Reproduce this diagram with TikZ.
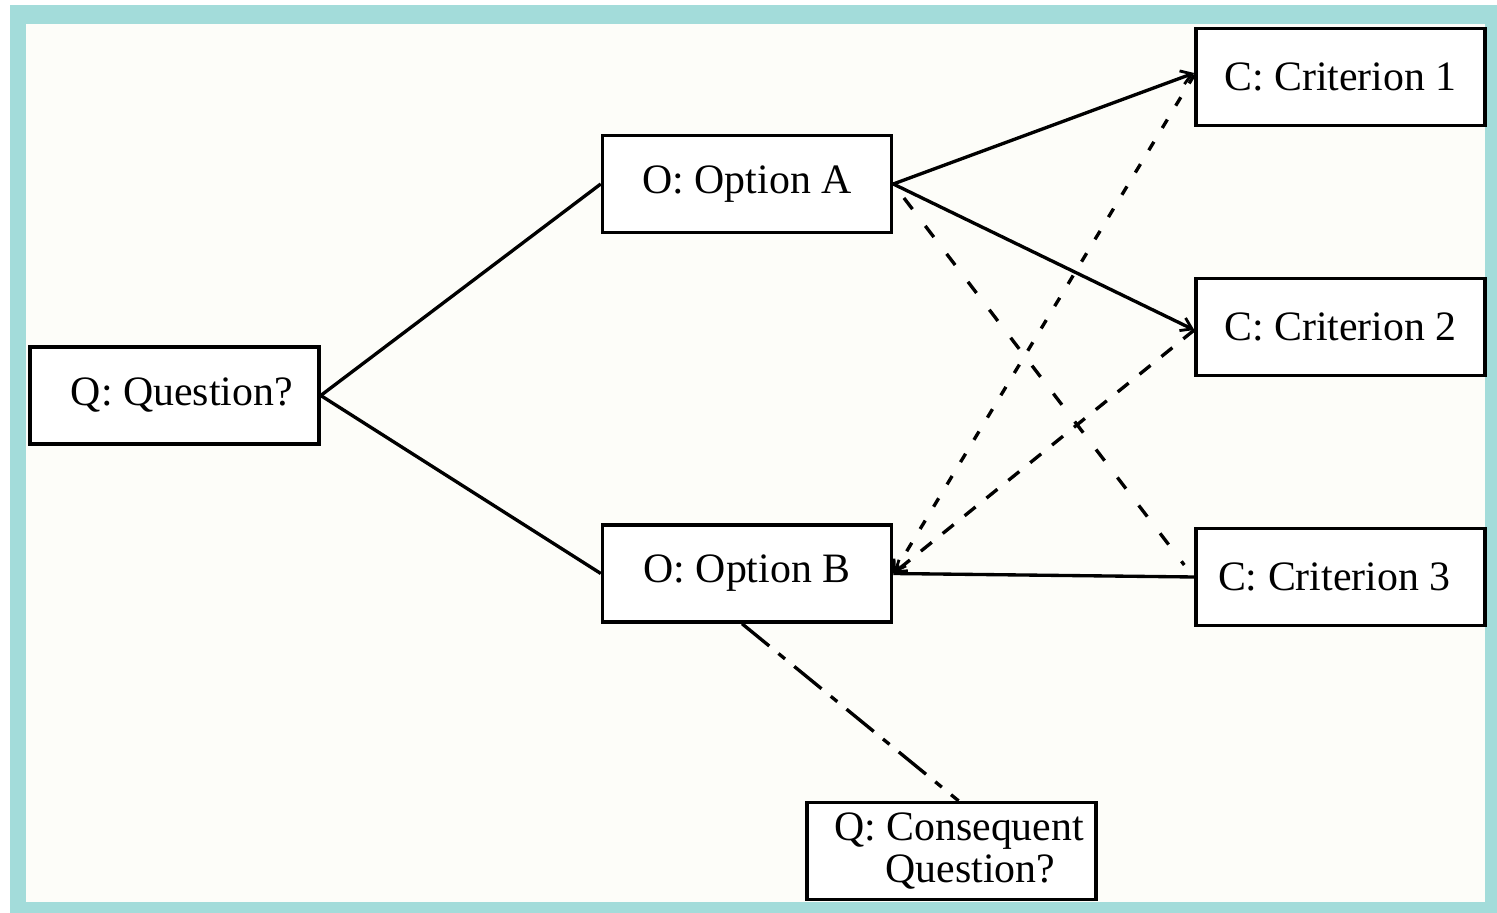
\documentclass[tikz,border=0pt]{standalone}
\usepackage{fontspec}
\setmainfont{Liberation Serif}
\usetikzlibrary{arrows.meta,calc}
\definecolor{frameteal}{RGB}{163,220,218}
\definecolor{paper}{RGB}{253,253,249}
\begin{document}
\begin{tikzpicture}[x=0.01cm,y=-0.01cm,
  box/.style={draw=black,line width=0.95pt,fill=white,rectangle,
    minimum width=2.89cm,minimum height=0.97cm,inner sep=0pt,
    font=\fontsize{11.9}{12}\selectfont},
  link/.style={line width=0.95pt},
  tip/.style={-{Straight Barb[length=3pt,width=4pt,line width=0.8pt]}},
  longdash/.style={dash pattern=on 4pt off 6pt},
  shortdash/.style={dash pattern=on 2.8pt off 4.6pt},
  middash/.style={dash pattern=on 4pt off 4pt},
  dashdot/.style={dash pattern=on 10pt off 3.4pt on 2.4pt off 3.4pt}]
  \useasboundingbox (0,0) rectangle (1497,913);
  % frame and paper
  \fill[white] (0,0) rectangle (1497,913);
  \fill[frameteal] (10,5) rectangle (1497,913);
  \fill[paper] (26,24) rectangle (1485,902);

  % nodes
  \node[box] (q)  at (174.5,395.5) {\hspace*{0.35em}Q: Question?};
  \node[box] (oa) at (747,184)     {O: Option A};
  \node[box] (ob) at (747,573.5)   {O: Option B};
  \node[box] (c1) at (1340.5,77)   {C: Criterion 1};
  \node[box] (c2) at (1340.5,327)  {C: Criterion 2};
  \node[box] (c3) at (1340.5,577)  {C: Criterion 3\hspace*{0.3em}};
  \node[box,align=center] (cq) at (951.5,851) {\hspace*{0.36em}Q: Consequent\\\hspace*{0.9em}Question?};

  % question to options
  \draw[link] (q.east) -- (oa.west);
  \draw[link] (q.east) -- (ob.west);

  % option A to criteria
  \draw[link,tip] (oa.east) -- ($(c1.west)+(0,-4)$);
  \draw[link,tip] (oa.east) -- ($(c2.west)+(0,3)$);
  \draw[link,longdash,dash phase=-5pt] (oa.east) -- ($(c3.west)+(-10,-12)$);

  % criteria to option B
  \draw[link,shortdash,tip] ($(c1.west)+(0,-2)$) -- (ob.east);
  \draw[link,middash,tip] ($(c2.west)+(0,3)$) -- (ob.east);
  \draw[link] (ob.east) -- (c3.west);

  % option B to consequent question
  \draw[link,dashdot] ($(ob.south)+(-5,0)$) -- ($(cq.north)+(7,0)$);
\end{tikzpicture}
\end{document}
